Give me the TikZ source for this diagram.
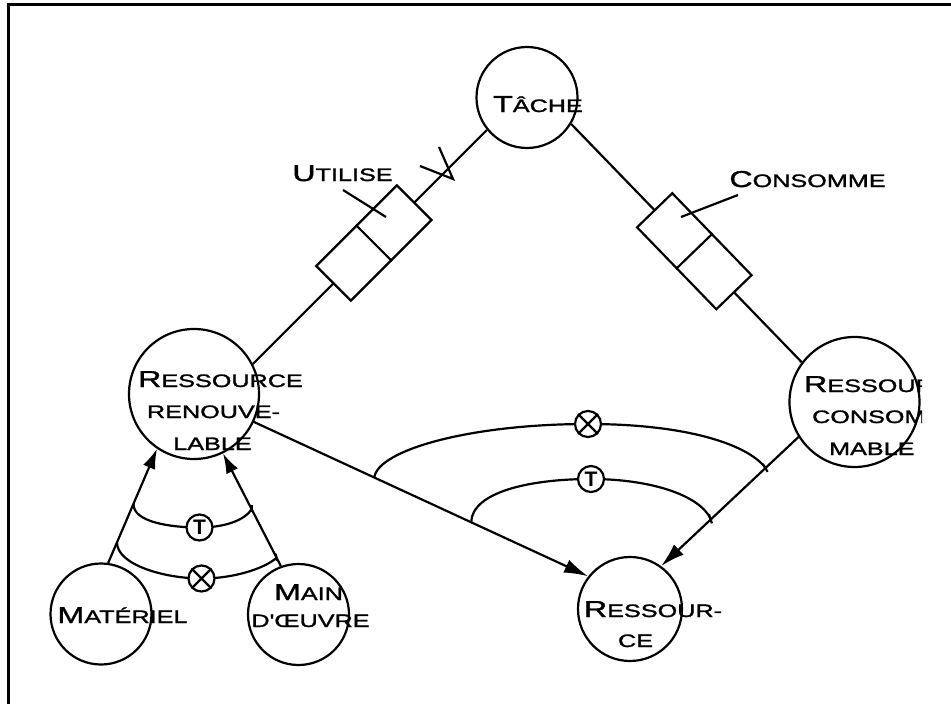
\documentclass[tikz,border=0pt]{standalone}
\usepackage{fontspec}
\setmainfont{Liberation Sans}[FakeStretch=1.4, FakeBold=1.5, Ligatures=TeXOff]
\newfontfamily\tfont{Liberation Sans}
\usetikzlibrary{arrows.meta,calc}
\newcommand\BigL[1]{{\fontsize{23}{26}\selectfont #1}}
\newcommand\SmL[1]{{\fontsize{18}{26}\selectfont #1}}
\begin{document}
\begin{tikzpicture}[x=1pt,y=-1pt, line width=2.2pt,
  ent/.style={circle,draw,inner sep=0pt},
  lbl/.style={inner sep=0pt,anchor=base},
  lblw/.style={inner sep=0pt,anchor=base west},
  relbox/.style={rectangle,draw,fill=white,minimum width=114pt,minimum height=49pt,inner sep=0pt,sloped},
  bigarr/.style={-{Latex[length=24pt,width=14pt]}},
  smallarr/.style={-{Latex[length=20pt,width=13pt]}},
  sym/.style={circle,draw,fill=white,minimum size=26pt,inner sep=0pt},
  tsym/.style={sym,font=\tfont\bfseries\fontsize{21}{21}\selectfont},
]
\useasboundingbox (0,0) rectangle (951,704);
% frame
\draw (8.5,704) -- (8.5,4.5) -- (951,4.5);

% entities
\node[ent,minimum size=101pt] (T) at (527,97.5) {};
\node[ent,minimum size=130pt] (RR) at (194,394) {};
\node[ent,minimum size=130pt] (RC) at (854.5,402) {};
\node[ent,minimum size=104pt] (R) at (630,609) {};
\node[ent,minimum size=101pt] (M) at (101,614) {};
\node[ent,minimum size=101pt] (MO) at (298.5,614.5) {};

% relations with boxes
\draw (T.219) -- node[relbox,pos=0.483] (ub) {} (RR.27);
\draw (ub.north) -- (ub.south);
\draw (T.-31.4) -- node[relbox,pos=0.534] (cb) {} (RC.143.4);
\draw (cb.north) -- (cb.south);

% cardinality mark
\draw (420,166) -- (453,179) -- (439,147);

% labels of relations
\node[lbl] (tU) at (342.5,181) {\BigL{U}\SmL{TILISE}};
\node[lbl] (tC) at (807.5,187) {\BigL{C}\SmL{ONSOMME}};
\coordinate (uls) at (343,190);
\coordinate (ule) at (386,217);
\coordinate (cls) at (738,195);
\coordinate (cle) at (681,217);
\draw (uls) -- (ule);
\draw (cls) -- (cle);

% generalisation arrows
\draw[bigarr] (RR.-25.8) -- (R.142.1);
\draw[bigarr] (RC.212) -- (R.54);
\draw[smallarr] (M.82.3) -- (RR.236.1);
\draw[smallarr] (MO.110.5) -- (RR.-64.9);

% arc end points
\coordinate (a1) at ($(RR.-25.8)!0.36!(R.142.1)$);
\coordinate (a2) at ($(RR.-25.8)!0.65!(R.142.1)$);
\coordinate (b1) at ($(RC.212)!0.239!(R.54)$);
\coordinate (b2) at ($(RC.212)!0.638!(R.54)$);
\coordinate (c1) at ($(M.82.3)!0.518!(RR.236.1)$);
\coordinate (c2) at ($(M.82.3)!0.18!(RR.236.1)$);
\coordinate (d1) at ($(MO.110.5)!0.505!(RR.-64.9)$);
\coordinate (d2) at ($(MO.110.5)!0.073!(RR.-64.9)$);
\coordinate (x1c) at (588,424);
\coordinate (t1c) at (591,479);
\coordinate (t2c) at (199.5,527.5);
\coordinate (x2c) at (201.5,578.5);

% arcs
\draw (a1) .. controls (378,450) and (470,424) .. (x1c) .. controls (680,424) and (745,442) .. (b1);
\draw (a2) .. controls (472,492) and (530,479) .. (t1c) .. controls (650,479) and (700,495) .. (b2);
\draw (c1) .. controls (133,522) and (170,527.5) .. (t2c) .. controls (225,527.5) and (245,520) .. (d1);
\draw (c2) .. controls (117,565) and (165,578.5) .. (x2c) .. controls (235,578.5) and (265,568) .. (d2);

% ticks
\draw (b1) ++(-3,-4) -- ++(5,8);
\draw (b2) ++(-2,-5) -- ++(3,9);
\draw (d1) ++(0,-4) -- ++(0,7);
\draw (d2) ++(-1,-4) -- ++(1.5,7);

% symbols
\node[sym] (X1) at (x1c) {};
\draw (X1.45) -- (X1.225) (X1.135) -- (X1.-45);
\node[tsym] (T1) at (t1c) {T};
\node[tsym] (T2) at (t2c) {T};
\node[sym] (X2) at (x2c) {};
\draw (X2.45) -- (X2.225) (X2.135) -- (X2.-45);

% entity texts
\node[lbl] (tT) at (538,112) {\BigL{T}\SmL{ÂCHE}};
\node[lbl] (tRR1) at (220.5,387) {\BigL{R}\SmL{ESSOURCE}};
\node[lbl] (tRR2) at (213.5,418) {\SmL{RENOUVE-}};
\node[lbl] (tRR3) at (212.5,450) {\SmL{LABLE}};
\node[lbl] (tM) at (122.5,623) {\BigL{M}\SmL{ATÉRIEL}};
\node[lbl] (tMO1) at (308.5,600) {\BigL{M}\SmL{AIN}};
\node[lbl] (tMO2) at (310.5,627) {\SmL{D'ŒUVRE}};
\node[lbl] (tR1) at (653,617) {\BigL{R}\SmL{ESSOUR-}};
\node[lbl] (tR2) at (635.5,647) {\SmL{CE}};
\begin{scope}
\clip (780,330) rectangle (922,470);
\node[lblw] (tRC1) at (803,392) {\BigL{R}\SmL{ESSOURCE}};
\node[lblw] (tRC2) at (811,423) {\SmL{CONSOM-}};
\node[lblw] (tRC3) at (828,455) {\SmL{MABLE}};
\end{scope}
\end{tikzpicture}
\end{document}
